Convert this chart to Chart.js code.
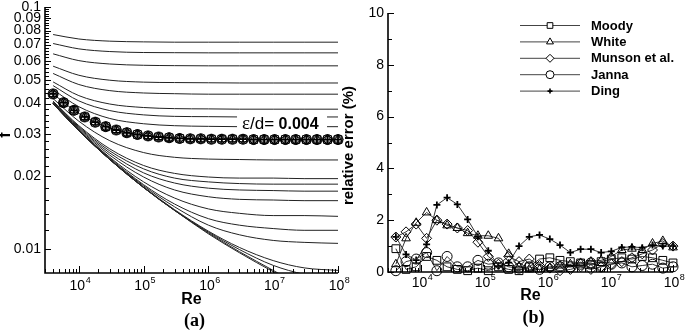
<!DOCTYPE html>
<html>
<head>
<meta charset="utf-8">
<script src="https://cdn.jsdelivr.net/npm/chart.js@4.4.0/dist/chart.umd.min.js"></script>
<style>
    body { margin: 0; background: #fff; }
    #wrap { position: relative; width: 685px; height: 334px; overflow: hidden; }
    #ca { position: absolute; left: 0; top: 0; }
    #cb { position: absolute; left: 340px; top: 0; }
</style>
</head>
<body>
<div id="wrap">
    <canvas id="ca" width="350" height="334"></canvas>
    <canvas id="cb" width="345" height="334"></canvas>
</div>
<script>
// Moody diagram curves, read at these Reynolds numbers
const moodyRe = [4e3, 1e4, 3e4, 1e5, 3e5, 1e6, 3e6, 1e7, 3e7, 1e8];
const f_ed_0_05     = [0.0770, 0.0738, 0.0723, 0.0718, 0.0716, 0.0716, 0.0716, 0.0716, 0.0716, 0.0716];
const f_ed_0_04     = [0.0707, 0.0672, 0.0655, 0.0649, 0.0648, 0.0647, 0.0647, 0.0647, 0.0647, 0.0647];
const f_ed_0_03     = [0.0641, 0.0601, 0.0582, 0.0575, 0.0573, 0.0572, 0.0572, 0.0572, 0.0572, 0.0572];
const f_ed_0_02     = [0.0570, 0.0523, 0.0499, 0.0490, 0.0488, 0.0487, 0.0486, 0.0486, 0.0486, 0.0486];
const f_ed_0_015    = [0.0532, 0.0479, 0.0452, 0.0442, 0.0439, 0.0437, 0.0437, 0.0437, 0.0437, 0.0437];
const f_ed_0_01     = [0.0491, 0.0431, 0.0398, 0.0385, 0.0381, 0.0380, 0.0379, 0.0379, 0.0379, 0.0379];
const f_ed_0_008    = [0.0474, 0.0410, 0.0374, 0.0359, 0.0354, 0.0353, 0.0352, 0.0352, 0.0352, 0.0352];
const f_ed_0_006    = [0.0456, 0.0388, 0.0347, 0.0330, 0.0324, 0.0322, 0.0321, 0.0321, 0.0321, 0.0321];
const f_ed_0_004    = [0.0438, 0.0364, 0.0317, 0.0295, 0.0288, 0.0285, 0.0285, 0.0284, 0.0284, 0.0284];
const f_ed_0_002    = [0.0419, 0.0338, 0.0281, 0.0251, 0.0240, 0.0236, 0.0235, 0.0234, 0.0234, 0.0234];
const f_ed_0_001    = [0.0409, 0.0324, 0.0260, 0.0222, 0.0206, 0.0199, 0.0197, 0.0197, 0.0196, 0.0196];
const f_ed_0_0008   = [0.0407, 0.0321, 0.0255, 0.0215, 0.0197, 0.0190, 0.0187, 0.0186, 0.0186, 0.0186];
const f_ed_0_0006   = [0.0405, 0.0318, 0.0250, 0.0207, 0.0188, 0.0179, 0.0176, 0.0175, 0.0174, 0.0174];
const f_ed_0_0004   = [0.0403, 0.0315, 0.0245, 0.0199, 0.0176, 0.0165, 0.0161, 0.0160, 0.0159, 0.0159];
const f_ed_0_0002   = [0.0401, 0.0312, 0.0240, 0.0190, 0.0163, 0.0147, 0.0141, 0.0138, 0.0138, 0.0137];
const f_ed_0_0001   = [0.0400, 0.0310, 0.0238, 0.0185, 0.0154, 0.0134, 0.0126, 0.0122, 0.0120, 0.0120];
const f_ed_5e_5     = [0.0400, 0.0310, 0.0236, 0.0183, 0.0150, 0.0126, 0.0115, 0.0109, 0.0107, 0.0106];
const f_ed_1e_5     = [0.0399, 0.0309, 0.0235, 0.0181, 0.0146, 0.0119, 0.0102, 0.0090, 0.0084, 0.0082];
const f_ed_5e_6     = [0.0399, 0.0309, 0.0235, 0.0180, 0.0145, 0.0118, 0.0100, 0.0086, 0.0079, 0.0075];
const f_ed_1e_6     = [0.0399, 0.0309, 0.0235, 0.0180, 0.0145, 0.0117, 0.0098, 0.0082, 0.0070, 0.0064];
const f_smooth      = [0.0399, 0.0309, 0.0235, 0.0180, 0.0145, 0.0116, 0.0097, 0.0081, 0.0070, 0.0059];

const moodyCurves = [f_ed_0_05, f_ed_0_04, f_ed_0_03, f_ed_0_02, f_ed_0_015, f_ed_0_01, f_ed_0_008,
    f_ed_0_006, f_ed_0_004, f_ed_0_002, f_ed_0_001, f_ed_0_0008, f_ed_0_0006, f_ed_0_0004,
    f_ed_0_0002, f_ed_0_0001, f_ed_5e_5, f_ed_1e_5, f_ed_5e_6, f_ed_1e_6, f_smooth];

// correlations compared at e/d = 0.004
const corrRe = [4000, 5800, 8400, 1.23e4, 1.79e4, 2.6e4, 3.78e4, 5.51e4, 8.02e4, 1.17e5, 1.7e5, 2.47e5,
    3.6e5, 5.24e5, 7.62e5, 1.11e6, 1.61e6, 2.35e6, 3.42e6, 4.98e6, 7.24e6, 1.05e7, 1.54e7, 2.23e7,
    3.25e7, 4.73e7, 6.89e7, 1.0e8];
const fCorr = [0.0438, 0.0403, 0.0375, 0.0352, 0.0335, 0.0321, 0.0311, 0.0303, 0.0298, 0.0294, 0.0291,
    0.0289, 0.0287, 0.0286, 0.0286, 0.0285, 0.0285, 0.0285, 0.0285, 0.0284, 0.0284, 0.0284, 0.0284,
    0.0284, 0.0284, 0.0284, 0.0284, 0.0284];

// relative error (%)
const errMoody  = [0.9, 0.1, 0.2, 0.6, 0.45, 0.2, 0.1, 0.05, 0.15, 0.05, 0.2, 0.1, 0.05, 0.2, 0.5, 0.55,
    0.45, 0.4, 0.35, 0.3, 0.4, 0.5, 0.55, 0.5, 0.6, 0.55, 0.45, 0.35];
const errWhite  = [0.3, 1.3, 1.9, 2.3, 2.0, 1.8, 1.7, 1.5, 1.4, 1.4, 1.3, 0.7, 0.2, 0.1, 0.1, 0.15,
    0.25, 0.3, 0.35, 0.4, 0.45, 0.6, 0.85, 0.9, 0.85, 1.1, 1.2, 0.95];
const errMunson = [1.35, 1.55, 1.85, 1.3, 2.0, 1.85, 1.7, 1.6, 1.15, 0.6, 0.3, 0.6, 0.4, 0.5, 0.25, 0.15,
    0.05, 0.1, 0.2, 0.1, 0.2, 0.3, 0.4, 0.55, 0.7, 0.85, 1.1, 1.0];
const errJanna  = [0.05, 0.4, 0.5, 0.75, 0.05, 0.6, 0.2, 0.2, 0.45, 0.3, 0.35, 0.2, 0.15, 0.2, 0.1, 0.2,
    0.2, 0.2, 0.3, 0.35, 0.2, 0.3, 0.35, 0.2, 0.25, 0.3, 0.15, 0.2];
const errDing   = [1.36, 0.68, 0.46, 1.07, 2.59, 2.87, 2.61, 2.03, 1.36, 0.82, 0.23, 0.36, 1.0, 1.36, 1.43,
    1.27, 1.04, 0.75, 0.88, 0.88, 0.75, 0.8, 0.95, 0.97, 0.94, 1.04, 1.0, 1.0];

const seriesNames  = ['Moody', 'White', 'Munson et al.', 'Janna', 'Ding'];
const seriesStyles = ['rect', 'triangle', 'rectRot', 'circle', 'cross'];
const seriesErrors = [errMoody, errWhite, errMunson, errJanna, errDing];

// tick labels
const xMajor = [1e4, 1e5, 1e6, 1e7, 1e8];
const xExp = ['4', '5', '6', '7', '8'];
const yMajorA = [0.01, 0.02, 0.03, 0.04, 0.05, 0.06, 0.07, 0.08, 0.09, 0.1];
const yLabelsA = ['0.01', '0.02', '0.03', '0.04', '0.05', '0.06', '0.07', '0.08', '0.09', '0.1'];
const yMajorB = [0, 2, 4, 6, 8, 10];
const yLabelsB = ['0', '2', '4', '6', '8', '10'];
const yMinorB = [1, 3, 5, 7, 9];

const SANS = '"Liberation Sans", Arial, Helvetica, sans-serif';
const SERIF = '"Liberation Serif", "Times New Roman", serif';

var xMinor = [];
for (var d = 1e3; d < 1e8; d *= 10) {
    for (var m = 2; m <= 9; m++) {
        if (m * d >= 3000 && m * d < 1e8) xMinor.push(m * d);
    }
}
var yMinorA = [];
for (var k = 12; k < 100; k += 2) {
    if (k % 10 !== 0) yMinorA.push(k / 1000);
}

function drawMarker(ctx, style, x, y, r) {
    ctx.beginPath();
    if (style === 'rect') {
        var s = r * Math.SQRT1_2;
        ctx.rect(x - s, y - s, 2 * s, 2 * s);
    } else if (style === 'triangle') {
        ctx.moveTo(x, y - r);
        ctx.lineTo(x + r * 0.866, y + r * 0.5);
        ctx.lineTo(x - r * 0.866, y + r * 0.5);
        ctx.closePath();
    } else if (style === 'rectRot') {
        ctx.moveTo(x, y - r); ctx.lineTo(x + r, y); ctx.lineTo(x, y + r); ctx.lineTo(x - r, y);
        ctx.closePath();
    } else if (style === 'circle') {
        ctx.arc(x, y, r, 0, Math.PI * 2);
    } else {
        ctx.moveTo(x, y - r); ctx.lineTo(x, y + r);
        ctx.moveTo(x - r, y); ctx.lineTo(x + r, y);
    }
    if (style !== 'cross') ctx.fill();
    ctx.stroke();
}

function drawPow(ctx, x, yBase, exp) {
    ctx.textAlign = 'left';
    ctx.textBaseline = 'alphabetic';
    ctx.font = '14px ' + SANS;
    var w1 = ctx.measureText('10').width;
    ctx.font = '9px ' + SANS;
    var w2 = ctx.measureText(exp).width;
    var start = x - (w1 + w2) / 2 + 1;
    ctx.font = '14px ' + SANS;
    ctx.fillText('10', start, yBase);
    ctx.font = '9px ' + SANS;
    ctx.fillText(exp, start + w1 + 0.5, yBase - 7);
}

// Tecplot-like axes: inward ticks, left and bottom lines only
const tecAxes = {
    id: 'tecAxes',
    afterDraw: function (chart, args, o) {
        var ctx = chart.ctx, a = chart.chartArea;
        var xs = chart.scales.x, ys = chart.scales.y;
        ctx.save();
        ctx.strokeStyle = '#000';
        ctx.fillStyle = '#000';

        if (o.note) {
            var nx = xs.getPixelForValue(o.note.re), ny = ys.getPixelForValue(o.note.f);
            ctx.fillStyle = '#fff';
            ctx.fillRect(nx - 5, ny - 10, 90, 20);
            ctx.fillStyle = '#000';
            ctx.textAlign = 'left';
            ctx.textBaseline = 'alphabetic';
            ctx.font = '19px ' + SERIF;
            ctx.fillText('\u03b5', nx, ny + 6);
            var w = ctx.measureText('\u03b5').width;
            ctx.font = '17px ' + SANS;
            ctx.fillText('/d=', nx + w, ny + 6);
            w += ctx.measureText('/d=').width;
            ctx.font = 'bold 16px ' + SANS;
            ctx.fillText(' 0.004', nx + w, ny + 6);
        }

        ctx.lineWidth = 1;
        var tickX = function (v, len) {
            var px = Math.round(xs.getPixelForValue(v)) + 0.5;
            ctx.beginPath(); ctx.moveTo(px, a.bottom); ctx.lineTo(px, a.bottom - len); ctx.stroke();
        };
        var tickY = function (v, len) {
            var py = Math.round(ys.getPixelForValue(v)) + 0.5;
            ctx.beginPath(); ctx.moveTo(a.left, py); ctx.lineTo(a.left + len, py); ctx.stroke();
        };
        o.xMinor.forEach(function (v) { tickX(v, 4); });
        o.xMajor.forEach(function (v) { tickX(v, 7); });
        o.yMinor.forEach(function (v) { tickY(v, 4); });
        o.yMajor.forEach(function (v) { tickY(v, 6); });

        ctx.lineWidth = 1.6;
        ctx.beginPath();
        ctx.moveTo(a.left, a.top); ctx.lineTo(a.left, a.bottom); ctx.lineTo(a.right, a.bottom);
        ctx.stroke();

        ctx.font = '14px ' + SANS;
        ctx.textAlign = 'right';
        ctx.textBaseline = 'middle';
        o.yMajor.forEach(function (v, i) {
            ctx.fillText(o.yLabels[i], a.left - 4, ys.getPixelForValue(v));
        });
        o.xMajor.forEach(function (v, i) {
            drawPow(ctx, xs.getPixelForValue(v), a.bottom + o.xLabelGap, o.xExp[i]);
        });

        var cx = (a.left + a.right) / 2;
        ctx.textAlign = 'center';
        ctx.textBaseline = 'alphabetic';
        ctx.font = 'bold 16px ' + SANS;
        ctx.fillText('Re', cx, a.bottom + o.titleGap);
        ctx.font = 'bold 18px ' + SERIF;
        ctx.fillText(o.panel, cx + 3, a.bottom + o.panelGap);

        ctx.save();
        ctx.translate(o.yTitleX, (a.top + a.bottom) / 2 + o.yTitleShift);
        ctx.rotate(-Math.PI / 2);
        ctx.textBaseline = 'middle';
        ctx.font = 'bold ' + o.yTitleSize + 'px ' + SANS;
        ctx.fillText(o.yTitle, 0, 0);
        ctx.restore();

        if (o.legend) {
            var L = o.legend;
            chart.data.datasets.forEach(function (ds, i) {
                var y = L.top + i * L.step;
                ctx.strokeStyle = '#444';
                ctx.lineWidth = 1;
                ctx.beginPath(); ctx.moveTo(L.x0, y + 0.5); ctx.lineTo(L.x1, y + 0.5); ctx.stroke();
                ctx.strokeStyle = '#000';
                ctx.fillStyle = '#fff';
                ctx.lineWidth = ds.pointStyle === 'cross' ? 1.6 : 1;
                drawMarker(ctx, ds.pointStyle, (L.x0 + L.x1) / 2, y + 0.5, ds.pointStyle === 'cross' ? 2.5 : 4);
                ctx.fillStyle = '#000';
                ctx.font = 'bold 13px ' + SANS;
                ctx.textAlign = 'left';
                ctx.textBaseline = 'middle';
                ctx.fillText(ds.label, L.x1 + 11, y + 1);
            });
        }
        ctx.restore();
    }
};

function pts(xv, yv) {
    return xv.map(function (x, i) { return { x: x, y: yv[i] }; });
}

// (a) Moody diagram
var dsA = moodyCurves.map(function (c) {
    return {
        data: pts(moodyRe, c),
        borderColor: '#222',
        borderWidth: 1,
        pointRadius: 0,
        cubicInterpolationMode: 'monotone',
        fill: false,
        order: 2
    };
});
seriesNames.forEach(function (name, i) {
    dsA.push({
        label: name,
        data: pts(corrRe, fCorr),
        showLine: false,
        pointStyle: seriesStyles[i],
        pointRadius: seriesStyles[i] === 'cross' ? 3.5 : (seriesStyles[i] === 'rect' ? 5.5 : 5),
        pointBorderColor: '#000',
        pointBackgroundColor: 'rgba(0,0,0,0)',
        pointBorderWidth: seriesStyles[i] === 'cross' ? 1.8 : 1,
        clip: false,
        order: 1
    });
});

new Chart(document.getElementById('ca'), {
    type: 'line',
    data: { datasets: dsA },
    options: {
        responsive: false,
        animation: false,
        layout: { padding: { left: 45, right: 12, top: 7, bottom: 61 } },
        scales: {
            x: { type: 'logarithmic', min: 3000, max: 1e8, display: false },
            y: { type: 'logarithmic', min: 0.008, max: 0.1, display: false }
        },
        plugins: {
            legend: { display: false },
            tooltip: { enabled: false },
            tecAxes: {
                xMajor: xMajor, xExp: xExp, xMinor: xMinor,
                yMajor: yMajorA, yLabels: yLabelsA, yMinor: yMinorA,
                xLabelGap: 17, titleGap: 31, panelGap: 53, panel: '(a)',
                yTitle: 'f', yTitleX: 6, yTitleShift: -5, yTitleSize: 16,
                note: { re: 3.3e6, f: 0.0332 }
            }
        }
    },
    plugins: [tecAxes]
});

// (b) relative error
var dsB = seriesNames.map(function (name, i) {
    return {
        label: name,
        data: pts(corrRe, seriesErrors[i]),
        borderColor: '#333',
        borderWidth: 1,
        pointStyle: seriesStyles[i],
        pointRadius: seriesStyles[i] === 'cross' ? 3.5 : (seriesStyles[i] === 'rect' ? 5.5 : 5),
        pointBorderColor: '#000',
        pointBackgroundColor: 'rgba(0,0,0,0)',
        pointBorderWidth: seriesStyles[i] === 'cross' ? 1.8 : 1,
        tension: 0,
        fill: false,
        clip: false
    };
});

new Chart(document.getElementById('cb'), {
    type: 'line',
    data: { datasets: dsB },
    options: {
        responsive: false,
        animation: false,
        layout: { padding: { left: 48, right: 12, top: 13, bottom: 62 } },
        scales: {
            x: { type: 'logarithmic', min: 3000, max: 1e8, display: false },
            y: { type: 'linear', min: 0, max: 10, display: false }
        },
        plugins: {
            legend: { display: false },
            tooltip: { enabled: false },
            tecAxes: {
                xMajor: xMajor, xExp: xExp, xMinor: xMinor,
                yMajor: yMajorB, yLabels: yLabelsB, yMinor: yMinorB,
                xLabelGap: 15, titleGap: 28, panelGap: 51, panel: '(b)',
                yTitle: 'relative error (%)', yTitleX: 9, yTitleShift: 3, yTitleSize: 15,
                legend: { x0: 180, x1: 240, top: 25, step: 16.4 }
            }
        }
    },
    plugins: [tecAxes]
});
</script>
</body>
</html>
